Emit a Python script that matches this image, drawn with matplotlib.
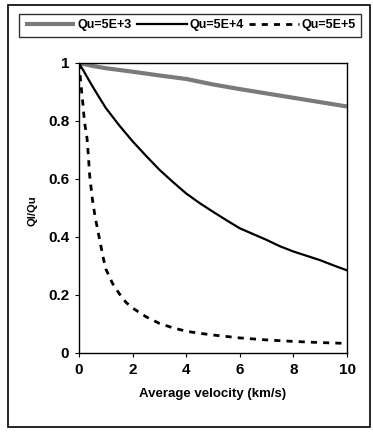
import numpy as np
import matplotlib
matplotlib.use("Agg")
import matplotlib.pyplot as plt
from matplotlib.patches import Rectangle

# data
x_grey = [0, 0.5, 1, 1.5, 2, 3, 4, 5, 6, 7, 8, 9, 10]
y_grey = [1.0, 0.99, 0.982, 0.976, 0.97, 0.957, 0.945, 0.926, 0.91, 0.895,
          0.88, 0.865, 0.85]

x_solid = [0, 0.25, 0.5, 0.75, 1, 1.5, 2, 2.5, 3, 3.5, 4, 4.5, 5, 5.5, 6,
           6.5, 7, 7.5, 8, 8.5, 9, 9.5, 10]
y_solid = [1.0, 0.96, 0.92, 0.882, 0.845, 0.785, 0.73, 0.68, 0.632, 0.59,
           0.55, 0.517, 0.487, 0.458, 0.43, 0.41, 0.39, 0.368, 0.35, 0.335,
           0.32, 0.302, 0.285]

x_dash = [0, 0.05, 0.1, 0.15, 0.2, 0.3, 0.35, 0.4, 0.5, 0.6, 0.75, 0.9, 1.0,
          1.25, 1.5, 1.75, 2, 2.5, 3, 3.5, 4, 4.5, 5, 6, 7, 8, 9, 10]
y_dash = [1.0, 0.95, 0.9, 0.855, 0.8, 0.74, 0.68, 0.61, 0.53, 0.47, 0.40,
          0.33, 0.29, 0.24, 0.205, 0.175, 0.155, 0.125, 0.102, 0.087, 0.075,
          0.068, 0.062, 0.052, 0.045, 0.04, 0.036, 0.033]

labels = ["Qu=5E+3", "Qu=5E+4", "Qu=5E+5"]
xticks = [0, 2, 4, 6, 8, 10]
yticks = [0, 0.2, 0.4, 0.6, 0.8, 1.0]
ytick_labels = ["0", "0.2", "0.4", "0.6", "0.8", "1"]

W, H = 373, 443
font = "Liberation Sans"

fig = plt.figure(figsize=(W / 100, H / 100), dpi=100)
ax = fig.add_axes([79 / W, 1 - 353 / H, 268 / W, 290 / H])

ax.plot(x_grey, y_grey, color="#7a7a7a", lw=3.0, label=labels[0],
        solid_capstyle="butt")
ax.plot(x_solid, y_solid, color="black", lw=1.6, label=labels[1])
ax.plot(x_dash, y_dash, color="black", lw=2.0, label=labels[2],
        dashes=(2.2, 2.2))

ax.set_xlim(0, 10)
ax.set_ylim(0, 1)
ax.set_xticks(xticks)
ax.set_xticklabels([str(t) for t in xticks])
ax.set_yticks(yticks)
ax.set_yticklabels(ytick_labels)
for lab in ax.get_xticklabels() + ax.get_yticklabels():
    lab.set_family(font)
    lab.set_fontweight("bold")
    lab.set_fontsize(11)
ax.tick_params(direction="out", length=3, width=0.8, pad=4)
for sp in ax.spines.values():
    sp.set_linewidth(1.0)

ax.set_xlabel("Average velocity (km/s)", fontsize=9.5, fontweight="bold",
              family=font, labelpad=8)
ax.set_ylabel("Ql/Qu", fontsize=8, fontweight="bold", family=font)
ax.yaxis.set_label_coords(-41 / 268, 0.49)

leg = fig.legend(loc="lower left", ncol=3, mode="expand",
                 bbox_to_anchor=(19 / W, 1 - 37 / H, 342 / W, 28 / H),
                 frameon=True, fancybox=False, edgecolor="black",
                 handlelength=4.0, handletextpad=0.2, columnspacing=0.5,
                 borderaxespad=0, borderpad=0.45,
                 prop={"family": font, "weight": "bold", "size": 9})
leg.get_frame().set_linewidth(1.0)

# outer chart frame
fig.patches.append(Rectangle((8 / W, 1 - 427 / H), 362 / W, 422 / H,
                             transform=fig.transFigure, fill=False,
                             edgecolor="black", lw=1.2))

fig.savefig("out.png", dpi=100)
